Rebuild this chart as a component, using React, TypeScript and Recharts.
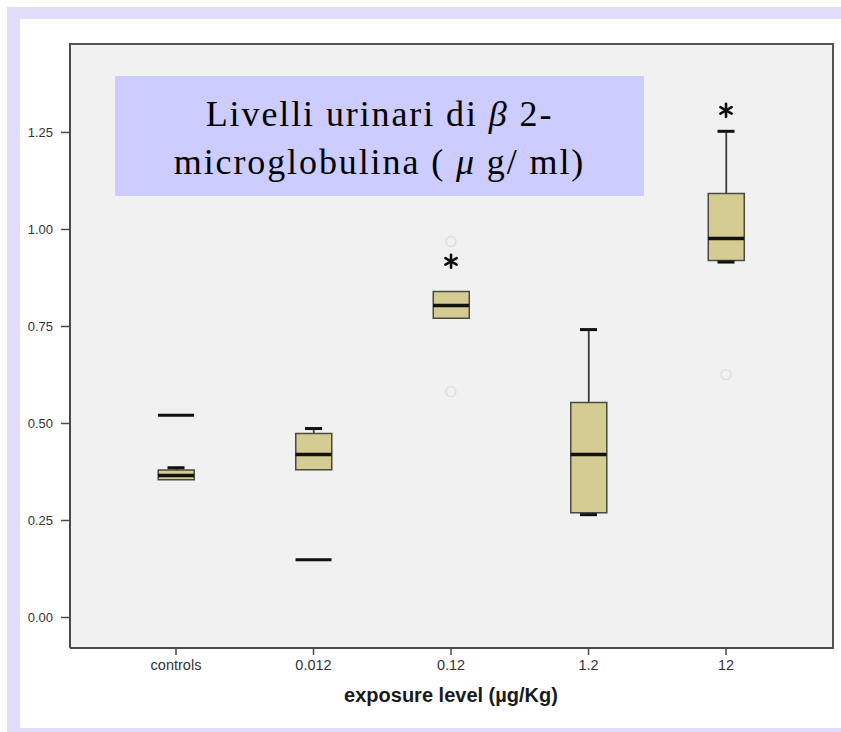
import React from "react";
import { ComposedChart, Bar, Scatter, XAxis, YAxis, CartesianGrid } from "recharts";

const categories = ["controls", "0.012", "0.12", "1.2", "12"];
const q1 = [0.355, 0.381, 0.771, 0.27, 0.92];
const median = [0.366, 0.42, 0.804, 0.42, 0.977];
const q3 = [0.38, 0.474, 0.84, 0.554, 1.093];
const whiskerLow = [0.355, 0.381, 0.771, 0.265, 0.916];
const whiskerHigh = [0.386, 0.487, 0.84, 0.742, 1.253];

// flat marks drawn on their own (no whisker line)
const flatMarks = [
  { x: 0, y: 0.521 },
  { x: 1, y: 0.149 },
];
// extremes (*) and outliers (o)
const extremes = [
  { x: 2, y: 0.918 },
  { x: 4, y: 1.307 },
];
const outliers = [
  { x: 2, y: 0.969 },
  { x: 2, y: 0.582 },
  { x: 4, y: 0.626 },
];
const yTicks = [0, 0.25, 0.5, 0.75, 1, 1.25];

const xDomain = [-0.771, 4.778];
const yDomain = [-0.0786, 1.478];

const rows = categories.map((name, i) => ({
  x: i,
  name,
  box: [q1[i], q3[i]],
  upper: [q3[i], whiskerHigh[i]],
  lower: [whiskerLow[i], q1[i]],
}));
const medians = categories.map((_, i) => ({ x: i, y: median[i] }));
const caps = [
  ...categories.map((_, i) => ({ x: i, y: whiskerHigh[i], show: whiskerHigh[i] !== q3[i] })),
  ...categories.map((_, i) => ({ x: i, y: whiskerLow[i], show: whiskerLow[i] !== q1[i] })),
].filter((c) => c.show);

const hLine = (half: number, w: number) => (p: any) => (
  <line x1={p.cx - half} x2={p.cx + half} y1={p.cy} y2={p.cy} stroke="#111" strokeWidth={w} />
);

const Asterisk = (p: any) => {
  const r = 6.5;
  return (
    <g stroke="#111" strokeWidth={2.6} strokeLinecap="round">
      {[90, 30, -30].map((d) => {
        const t = (d * Math.PI) / 180;
        const dx = r * Math.cos(t);
        const dy = r * Math.sin(t);
        return <line key={d} x1={p.cx - dx} y1={p.cy - dy} x2={p.cx + dx} y2={p.cy + dy} />;
      })}
    </g>
  );
};

const Circle = (p: any) => <circle cx={p.cx} cy={p.cy} r={5} fill="none" stroke="#dedede" strokeWidth={1.3} />;

const Whisker = (p: any) =>
  p.height > 0 ? (
    <rect x={p.x + p.width / 2 - 0.9} y={p.y} width={1.8} height={p.height} fill="#3a3a3a" />
  ) : null;

const font = "'Liberation Sans', Arial, sans-serif";
const axisStroke = "#4a4a4a";

export default function App() {
  return (
    <div style={{ position: "absolute", left: 0, top: 0, width: 841, height: 732, background: "#fff", overflow: "hidden" }}>
      {/* lavender frame of the slide */}
      <div style={{ position: "absolute", left: 7, top: 7, width: 834, height: 12, background: "#e3dcfb" }} />
      <div style={{ position: "absolute", left: 7, top: 7, width: 13, height: 725, background: "#e3dcfb" }} />
      <div style={{ position: "absolute", left: 7, top: 728, width: 834, height: 4, background: "#e3dcfb" }} />

      <div style={{ position: "absolute", left: 0, top: 0 }}>
        <ComposedChart width={841} height={732} data={rows} margin={{ top: 44, right: 8, bottom: 44, left: 10 }}>
          <CartesianGrid horizontal={false} vertical={false} fill="#f1f1f1" />
          <XAxis
            type="number"
            dataKey="x"
            domain={xDomain}
            ticks={[0, 1, 2, 3, 4]}
            tickFormatter={(v: number) => categories[v]}
            allowDataOverflow
            height={40}
            tickSize={7}
            tickMargin={5}
            tick={{ fontSize: 14.5, fill: "#333", fontFamily: font }}
            axisLine={{ stroke: axisStroke, strokeWidth: 2 }}
            tickLine={{ stroke: axisStroke, strokeWidth: 1.5 }}
          />
          <XAxis xAxisId="box" type="number" dataKey="x" domain={xDomain} allowDataOverflow hide />
          <XAxis xAxisId="up" type="number" dataKey="x" domain={xDomain} allowDataOverflow hide />
          <XAxis xAxisId="low" type="number" dataKey="x" domain={xDomain} allowDataOverflow hide />
          <YAxis
            type="number"
            domain={yDomain}
            ticks={yTicks}
            tickFormatter={(v: number) => v.toFixed(2)}
            allowDataOverflow
            width={60}
            tickSize={9}
            tickMargin={8}
            tick={{ fontSize: 13, fill: "#333", fontFamily: font }}
            axisLine={{ stroke: axisStroke, strokeWidth: 2 }}
            tickLine={{ stroke: axisStroke, strokeWidth: 1.5 }}
          />
          <Bar xAxisId="up" dataKey="upper" barSize={2} shape={Whisker} isAnimationActive={false} />
          <Bar xAxisId="low" dataKey="lower" barSize={2} shape={Whisker} isAnimationActive={false} />
          <Bar
            xAxisId="box"
            dataKey="box"
            barSize={36}
            fill="#d5cc93"
            stroke="#4a4a40"
            strokeWidth={1.5}
            isAnimationActive={false}
          />
          <Scatter data={medians} dataKey="y" shape={hLine(18, 3.5)} isAnimationActive={false} />
          <Scatter data={caps} dataKey="y" shape={hLine(8.5, 3)} isAnimationActive={false} />
          <Scatter data={flatMarks} dataKey="y" shape={hLine(18, 3)} isAnimationActive={false} />
          <Scatter data={extremes} dataKey="y" shape={Asterisk} isAnimationActive={false} />
          <Scatter data={outliers} dataKey="y" shape={Circle} isAnimationActive={false} />
        </ComposedChart>
      </div>

      {/* top and right edges of the plot frame */}
      <div
        style={{
          position: "absolute",
          left: 69,
          top: 43,
          width: 763,
          height: 604,
          borderTop: "2px solid #555",
          borderRight: "2px solid #555",
          pointerEvents: "none",
        }}
      />

      <div
        style={{
          position: "absolute",
          left: 251,
          top: 684,
          width: 400,
          textAlign: "center",
          font: `bold 20px ${font}`,
          color: "#1a1a1a",
        }}
      >
        exposure level (µg/Kg)
      </div>

      <div
        style={{
          position: "absolute",
          left: 115,
          top: 76,
          width: 529,
          height: 106,
          paddingTop: 14,
          background: "#ccccff",
          textAlign: "center",
          font: "36px 'Liberation Serif', 'Times New Roman', serif",
          letterSpacing: "1.9px",
          lineHeight: "48px",
          color: "#000",
        }}
      >
        Livelli urinari di <i>β</i> 2-
        <br />
        microglobulina ( <i>μ</i> g/ ml)
      </div>
    </div>
  );
}
